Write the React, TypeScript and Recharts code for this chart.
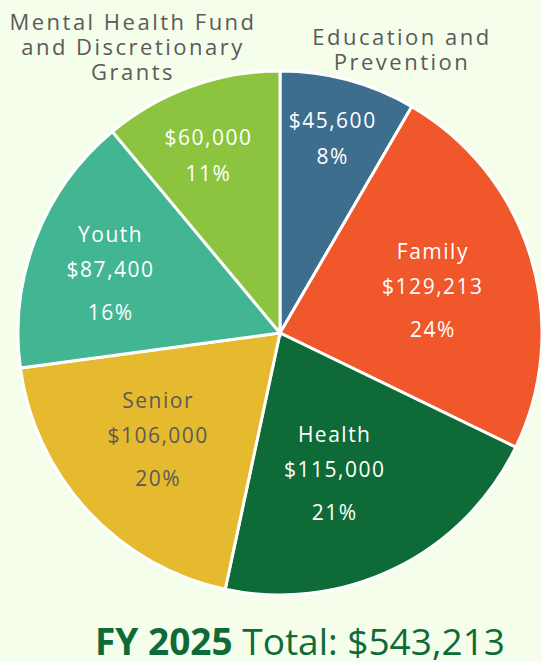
import React from 'react'
import { PieChart, Pie, Cell } from 'recharts'

// FY 2025 allocations, clockwise from 12 o'clock
const categories = [
  'Education and Prevention',
  'Family',
  'Health',
  'Senior',
  'Youth',
  'Mental Health Fund and Discretionary Grants',
]
const amounts = [45600, 129213, 115000, 106000, 87400, 60000]
const colors = ['#3e6e8e', '#f0572b', '#0e6b37', '#e6ba2e', '#42b593', '#8dc43f']
// which slices carry their name inside the wedge
const nameInside = [false, true, true, true, true, false]

// label placement inside each wedge: distance from centre and small angle nudge
const labelRadius = [202, 159, 149, 161, 180, 192]
const labelNudge = [0, -1, -4.5, -2, 1.5, 2]

const total = amounts.reduce((s, v) => s + v, 0)
const fmt = (v: number) => '$' + v.toLocaleString('en-US')

const chartData = categories.map((name, i) => ({ name, value: amounts[i] }))

const RAD = Math.PI / 180

const SliceLabel = (props: any) => {
  const { cx, cy, midAngle, index } = props
  const ang = (midAngle + labelNudge[index]) * RAD
  const r = labelRadius[index]
  const x = cx + r * Math.cos(-ang)
  const y = cy + r * Math.sin(-ang)
  const pct = Math.round((amounts[index] / total) * 100) + '%'
  const lines = nameInside[index]
    ? [
        { t: categories[index], dy: -38 },
        { t: fmt(amounts[index]), dy: -3 },
        { t: pct, dy: 40 },
      ]
    : [
        { t: fmt(amounts[index]), dy: -18 },
        { t: pct, dy: 18 },
      ]
  const fill = index === 3 ? '#5a5a5a' : '#ffffff'
  return (
    <g>
      {lines.map((l, k) => (
        <text
          key={k}
          x={x}
          y={y + l.dy}
          fill={fill}
          textAnchor="middle"
          dominantBaseline="central"
          style={{ fontFamily: '"Open Sans", sans-serif', fontSize: 21, letterSpacing: 1.5 }}
        >
          {l.t}
        </text>
      ))}
    </g>
  )
}

const outerLabel: React.CSSProperties = {
  position: 'absolute',
  textAlign: 'center',
  fontFamily: '"Open Sans", sans-serif',
  fontSize: 22,
  lineHeight: '25px',
  letterSpacing: 2.5,
  color: '#5a5a5a',
  whiteSpace: 'nowrap',
}

export default function App() {
  return (
    <div
      style={{
        position: 'fixed',
        left: 0,
        top: 0,
        width: 541,
        height: 662,
        background: '#f5fdeb',
        overflow: 'hidden',
      }}
    >
      <PieChart width={541} height={662} margin={{ top: 0, right: 0, bottom: 0, left: 0 }}>
        <Pie
          data={chartData}
          dataKey="value"
          nameKey="name"
          cx={280}
          cy={333}
          outerRadius={262}
          startAngle={90}
          endAngle={-270}
          stroke="#ffffff"
          strokeWidth={3}
          label={SliceLabel}
          labelLine={false}
          isAnimationActive={false}
        >
          {chartData.map((d, i) => (
            <Cell key={d.name} fill={colors[i]} />
          ))}
        </Pie>
      </PieChart>

      <div style={{ ...outerLabel, left: 0, top: 9, width: 266 }}>
        Mental Health Fund
        <br />
        and Discretionary
        <br />
        Grants
      </div>
      <div style={{ ...outerLabel, left: 282, top: 24, width: 240 }}>
        Education and
        <br />
        Prevention
      </div>

      <div
        style={{
          position: 'absolute',
          left: 95,
          top: 622,
          fontFamily: '"Open Sans", sans-serif',
          fontSize: 37,
          lineHeight: '37px',
          color: '#0e6b37',
          whiteSpace: 'nowrap',
        }}
      >
        <span style={{ fontWeight: 700 }}>FY 2025</span> Total: {fmt(total)}
      </div>
    </div>
  )
}
